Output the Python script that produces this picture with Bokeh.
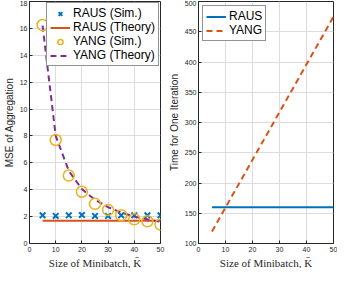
from bokeh.plotting import figure
from bokeh.layouts import row
from bokeh.models import Legend, LegendItem, Range1d, FixedTicker, Title
from bokeh.embed import file_html
from bokeh.resources import INLINE

# ---- data ----
K = [5, 10, 15, 20, 25, 30, 35, 40, 45, 50]
raus_sim = [2.1, 2.05, 2.1, 2.12, 2.05, 2.05, 2.1, 2.1, 2.1, 2.1]
raus_theory_x = [5, 50]
raus_theory = [1.7, 1.7]
yang_sim = [16.25, 7.7, 5.05, 3.85, 2.95, 2.5, 2.1, 1.8, 1.65, 1.4]
yang_theory = [16.2, 8.0, 5.4, 4.05, 3.25, 2.7, 2.3, 2.0, 1.8, 1.62]

time_x = [5, 50]
raus_time = [160, 160]
yang_time = [120, 475]

x_ticks = [0, 10, 20, 30, 40, 50]
mse_ticks = [0, 2, 4, 6, 8, 10, 12, 14, 16, 18]
time_ticks = [100, 150, 200, 250, 300, 350, 400, 450, 500]
x_label = "Size of Minibatch, K\u0304"

BLUE = "#0072BD"
ORANGE = "#D95319"
YELLOW = "#EDB120"
PURPLE = "#7E2F8E"
AX = "#262626"
SANS = "Liberation Sans"
SERIF = "Liberation Serif"


def style(p, yticks, ylabel):
    p.outline_line_color = AX
    p.outline_line_width = 1
    p.xgrid.grid_line_color = "#dcdcdc"
    p.ygrid.grid_line_color = "#dcdcdc"
    p.xaxis.ticker = FixedTicker(ticks=x_ticks)
    p.yaxis.ticker = FixedTicker(ticks=yticks)
    p.xgrid.ticker = FixedTicker(ticks=x_ticks)
    p.ygrid.ticker = FixedTicker(ticks=yticks)
    for ax in [p.xaxis[0], p.yaxis[0]]:
        ax.axis_line_color = AX
        ax.major_tick_line_color = AX
        ax.major_tick_in = 3
        ax.major_tick_out = 0
        ax.minor_tick_line_color = None
        ax.major_label_text_font = SANS
        ax.major_label_text_font_size = "7px"
        ax.major_label_text_color = AX
        ax.major_label_standoff = 2
        ax.axis_label_standoff = 2
        ax.axis_label_text_font_style = "normal"
        ax.axis_label_text_color = AX
    p.xaxis.major_label_standoff = 3
    p.yaxis.axis_label = ylabel
    p.yaxis.axis_label_text_font = SANS
    p.yaxis.axis_label_text_font_size = "10px"
    p.add_layout(Title(text=x_label, align="center", text_font=SERIF,
                       text_font_size="11px", text_font_style="normal",
                       text_color=AX, standoff=0, offset=0), "below")


# ---- left figure ----
p1 = figure(width=165, height=268, output_backend="svg", toolbar_location=None,
            x_range=Range1d(0, 50), y_range=Range1d(0, 18),
            min_border_left=0, min_border_right=5, min_border_top=1, min_border_bottom=0)
style(p1, mse_ticks, "MSE of Aggregation")

r1 = p1.scatter(K, raus_sim, marker="x", size=8, line_width=2, color=BLUE)
r2 = p1.line(raus_theory_x, raus_theory, line_width=2, color=ORANGE)
r4 = p1.line(K, yang_theory, line_width=2, color=PURPLE, line_dash="6 4")
r3 = p1.scatter(K, yang_sim, marker="circle", size=11, line_width=1.5,
                line_color=YELLOW, fill_color=None)

leg1 = Legend(items=[LegendItem(label="RAUS (Sim.)", renderers=[r1]),
                     LegendItem(label="RAUS (Theory)", renderers=[r2]),
                     LegendItem(label="YANG (Sim.)", renderers=[r3]),
                     LegendItem(label="YANG (Theory)", renderers=[r4])],
              location="top_right")
leg1.margin = 1

# ---- right figure ----
p2 = figure(width=172, height=268, output_backend="svg", toolbar_location=None,
            x_range=Range1d(0, 50), y_range=Range1d(100, 500),
            min_border_left=0, min_border_right=4, min_border_top=1, min_border_bottom=0)
style(p2, time_ticks, "Time for One Iteration")
s1 = p2.line(time_x, raus_time, line_width=2, color=BLUE)
s2 = p2.line(time_x, yang_time, line_width=2, color=ORANGE, line_dash="6 4")
leg2 = Legend(items=[LegendItem(label="RAUS", renderers=[s1]),
                     LegendItem(label="YANG", renderers=[s2])],
              location="top_left")
leg2.margin = 4

for p, lg in [(p1, leg1), (p2, leg2)]:
    lg.label_text_font = SANS
    lg.label_text_font_size = "12px"
    lg.label_text_color = "#000000"
    lg.label_height = 13
    lg.glyph_height = 13
    lg.glyph_width = 20
    lg.spacing = 0
    lg.padding = 3
    lg.label_standoff = 3
    lg.border_line_color = AX
    lg.border_line_width = 1
    lg.background_fill_alpha = 1
    p.add_layout(lg)

layout = row(p1, p2)
open("out.html", "w").write(file_html(layout, INLINE))
